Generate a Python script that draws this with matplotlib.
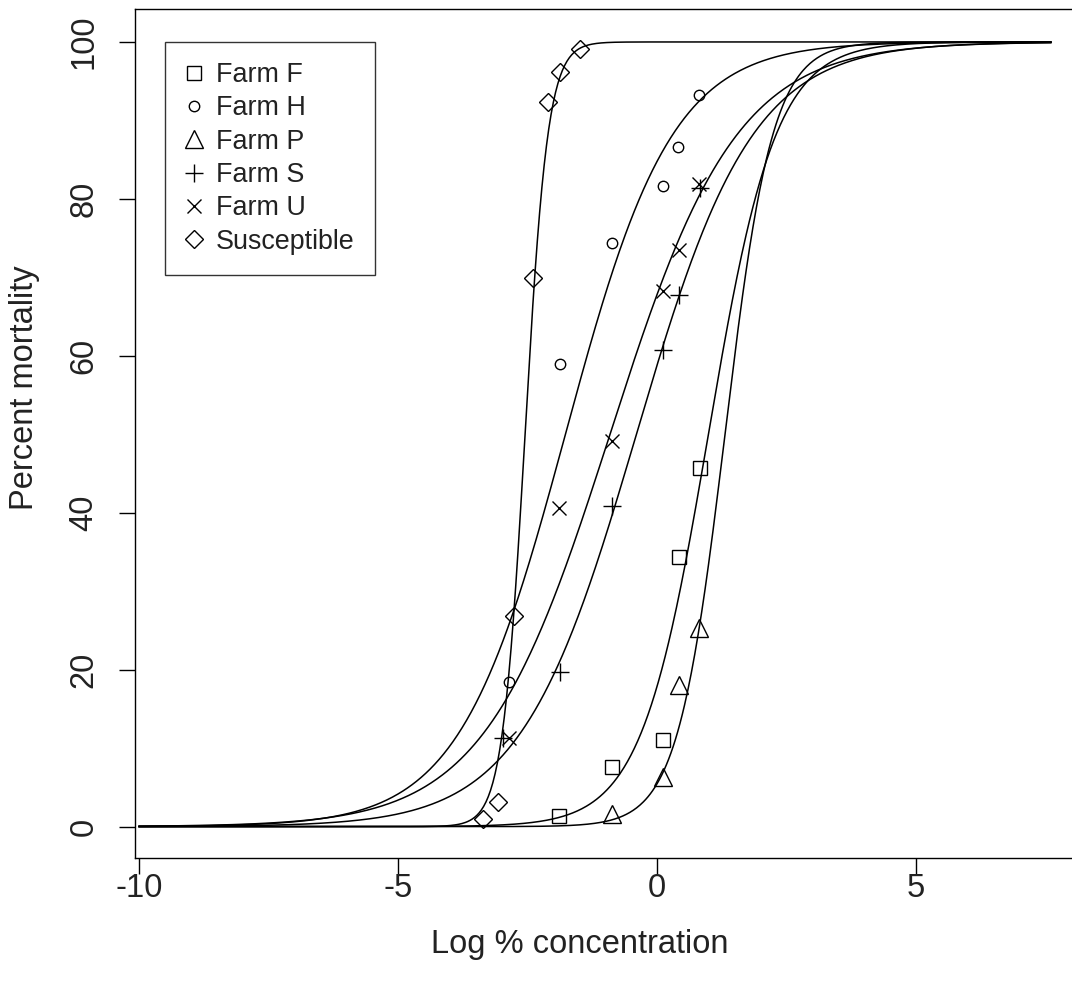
import matplotlib
matplotlib.use('Agg')
import matplotlib.pyplot as plt
import numpy as np

plt.rcParams['font.family'] = ['Liberation Sans', 'DejaVu Sans']

groups = ['Farm F', 'Farm H', 'Farm P', 'Farm S', 'Farm U', 'Susceptible']
markers = ['s', 'o', '^', '+', 'x', 'D']
msizes = [10, 7.5, 13, 13, 10, 9.5]

# observed points: log % concentration vs percent mortality
farm_f_x = [-1.89, -0.87, 0.12, 0.43, 0.83]
farm_f_y = [1.4, 7.6, 11.1, 34.4, 45.7]
farm_h_x = [-2.85, -1.87, -0.87, 0.12, 0.41, 0.81]
farm_h_y = [18.4, 58.9, 74.4, 81.6, 86.6, 93.2]
farm_p_x = [-0.87, 0.12, 0.43, 0.81]
farm_p_y = [1.6, 6.3, 18.0, 25.3]
farm_s_x = [-2.97, -1.87, -0.87, 0.12, 0.43, 0.83]
farm_s_y = [11.3, 19.7, 40.9, 60.8, 67.7, 81.4]
farm_u_x = [-2.85, -1.89, -0.87, 0.12, 0.43, 0.81]
farm_u_y = [11.3, 40.6, 49.2, 68.3, 73.5, 81.9]
susc_x = [-3.37, -3.08, -2.77, -2.39, -2.10, -1.87, -1.48]
susc_y = [1.0, 3.1, 26.8, 69.9, 92.3, 96.2, 99.1]

xs = [farm_f_x, farm_h_x, farm_p_x, farm_s_x, farm_u_x, susc_x]
ys = [farm_f_y, farm_h_y, farm_p_y, farm_s_y, farm_u_y, susc_y]

# fitted logit curves (midpoint and scale on the log axis)
lc50 = [0.99, -1.77, 1.31, -0.40, -0.91, -2.55]
scale = [0.65, 1.03, 0.46, 1.12, 1.22, 0.22]

fig = plt.figure(figsize=(10.72, 9.98), dpi=100)
ax = fig.add_axes([135 / 1072, 1 - 858 / 998, 937 / 1072, 849 / 998])

grid = np.linspace(-10, 7.6, 800)
for m, s in zip(lc50, scale):
    ax.plot(grid, 100 / (1 + np.exp(-(grid - m) / s)), color='black', lw=1.1)

for x, y, mk, ms, lab in zip(xs, ys, markers, msizes, groups):
    ax.plot(x, y, linestyle='none', marker=mk, markersize=ms, mfc='none',
            mec='black', mew=1.0, color='black', label=lab)

ax.set_xlim(-10.08, 8.01)
ax.set_ylim(-4, 104.2)
ax.set_xticks([-10, -5, 0, 5])
ax.set_xticklabels(['-10', '-5', '0', '5'])
ax.set_yticks([0, 20, 40, 60, 80, 100])
ax.spines['right'].set_visible(False)
for sp in ['left', 'bottom', 'top']:
    ax.spines[sp].set_linewidth(1.0)
ax.tick_params(direction='out', length=11.5, width=1.0, labelsize=23.5, labelcolor='#222222')
ax.tick_params(axis='x', pad=-1)
ax.tick_params(axis='y', pad=14)
plt.setp(ax.get_yticklabels(), rotation=90, va='center')

fig.text(580 / 1072, 1 - 945 / 998, 'Log % concentration', ha='center', va='center',
         fontsize=23.5, color='#222222')
fig.text(25 / 1072, 1 - 388 / 998, 'Percent mortality', ha='center', va='center',
         rotation=90, fontsize=23.5, color='#222222')

leg = ax.legend(loc='upper left', bbox_to_anchor=(30 / 937, 1 - 33 / 849), fontsize=19.4,
                frameon=True, fancybox=False, handlelength=0.65, handletextpad=0.5,
                labelspacing=0.27, borderpad=0.75, borderaxespad=0)
leg.get_frame().set_edgecolor('black')
leg.get_frame().set_linewidth(1.0)
for t in leg.get_texts():
    t.set_color('#222222')

fig.savefig('out.png', dpi=100)
